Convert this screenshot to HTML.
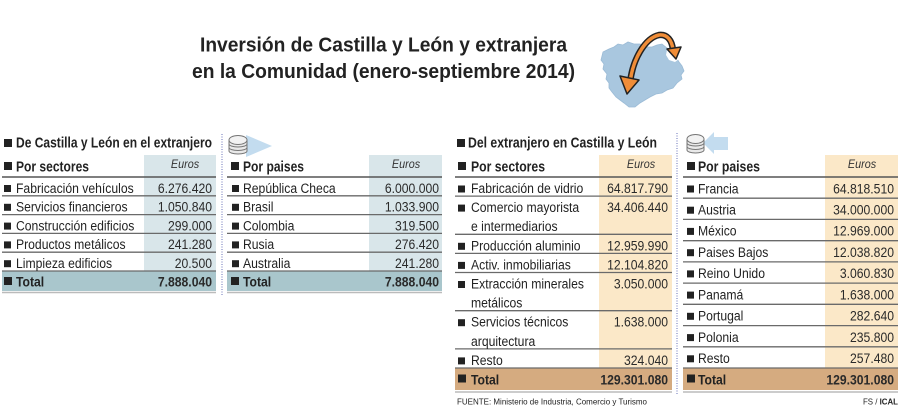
<!DOCTYPE html>
<html>
<head>
<meta charset="utf-8">
<style>
html,body{margin:0;padding:0;background:#fff;}
svg{display:block;}
text{font-family:"Liberation Sans",Arial,sans-serif;fill:#222;}
.l{font-size:14px;}
.n{font-size:14px;text-anchor:end;fill:#2a2a2a;}
.b{font-weight:bold;}
.e{font-size:12px;font-style:italic;text-anchor:middle;fill:#333;}
</style>
</head>
<body>
<svg width="900" height="410" viewBox="0 0 900 410" xmlns="http://www.w3.org/2000/svg">
<rect width="900" height="410" fill="#fff"/>

<!-- Title -->
<text x="200" y="51.5" font-size="20" font-weight="bold" textLength="367" lengthAdjust="spacingAndGlyphs" fill="#1e1e1e">Inversión de Castilla y León y extranjera</text>
<text x="192" y="78" font-size="20" font-weight="bold" textLength="383" lengthAdjust="spacingAndGlyphs" fill="#1e1e1e">en la Comunidad (enero-septiembre 2014)</text>

<!-- Map -->
<path d="M603,52 L609,49 L614,47 L618,44 L623,45 L628,42 L634,44 L640,44 L646,47 L652,47 L657,45 L662,44 L667,48 L672,51 L676,57 L679,62 L682,66 L684,71 L681,75 L682,79 L677,83 L673,88 L667,90 L662,93 L656,94 L650,97 L645,100 L640,103 L635,107 L629,107 L624,103 L620,100 L616,97 L612,92 L609,88 L609,83 L606,79 L607,74 L603,69 L604,64 L601,60 Z" fill="#a9c7df" stroke="#9bbbd6" stroke-width="0.8"/>
<path d="M667,50 L673,49 L678,53 L679,59 L675,62 L669,60 L666,55 Z" fill="#fff"/>
<!-- arrow -->
<path d="M630,84 C632,60 645,38 659,35 C667,34 672,40 673,50" fill="none" stroke="#222" stroke-width="6.5" stroke-linecap="round"/>
<path d="M630,84 C632,60 645,38 659,35 C667,34 672,40 673,50" fill="none" stroke="#f08d38" stroke-width="3.5" stroke-linecap="round"/>
<polygon points="620,76 639,80 627,94" fill="#f08d38" stroke="#222" stroke-width="1.5" stroke-linejoin="round"/>
<polygon points="667,49 681,47 676,59" fill="#f08d38" stroke="#222" stroke-width="1.5" stroke-linejoin="round"/>

<!-- ===== LEFT SECTION ===== -->
<rect x="4" y="139" width="8" height="8" fill="#222"/>
<text x="16" y="147.5" font-size="15" font-weight="bold" textLength="196" lengthAdjust="spacingAndGlyphs">De Castilla y León en el extranjero</text>

<!-- dotted vertical -->
<line x1="222" y1="134" x2="222" y2="295" stroke="#8088c4" stroke-width="1.2" stroke-dasharray="1,1.5"/>

<!-- coin icon left -->
<polygon points="246,135 272,146 246,157" fill="#c3dcef"/>
<g stroke="#777" stroke-width="1" fill="#e9e9e9">
<path d="M229,140 L229,151 A9,3 0 0 0 247,151 L247,140 Z"/>
<ellipse cx="238" cy="140" rx="9" ry="4.5" fill="#f2f2f2"/>
<path d="M229,144 A9,3 0 0 0 247,144 M229,147.5 A9,3 0 0 0 247,147.5" fill="none"/>
</g>

<!-- Table 1: sectores -->
<rect x="144" y="155" width="72" height="116" fill="#d9e6ea"/>
<rect x="2" y="271" width="214" height="20" fill="#a9c6cc"/>
<g stroke="#555" stroke-width="1.6"><line x1="2" y1="177" x2="216" y2="177"/></g>
<g stroke="#6a6a6a" stroke-width="1.3">
<line x1="2" y1="195.8" x2="216" y2="195.8"/>
<line x1="2" y1="214.6" x2="216" y2="214.6"/>
<line x1="2" y1="233.4" x2="216" y2="233.4"/>
<line x1="2" y1="252.2" x2="216" y2="252.2"/>
<line x1="2" y1="271" x2="216" y2="271"/>
</g>
<line x1="2" y1="292.5" x2="216" y2="292.5" stroke="#bbb" stroke-width="1.5"/>
<rect x="4" y="162" width="8" height="8" fill="#222"/>
<text x="16" y="171.5" font-size="15" font-weight="bold" textLength="73" lengthAdjust="spacingAndGlyphs">Por sectores</text>
<text class="e" x="185" y="168" transform="translate(185,0) scale(.9,1) translate(-185,0)">Euros</text>
<g fill="#222">
<rect x="4" y="185" width="7" height="7"/><rect x="4" y="203.8" width="7" height="7"/><rect x="4" y="222.6" width="7" height="7"/><rect x="4" y="241.4" width="7" height="7"/><rect x="4" y="260.2" width="7" height="7"/><rect x="4" y="277" width="8" height="8"/>
</g>
<text class="l" transform="matrix(.87 0 0 1 16 192.8)">Fabricación vehículos</text>
<text class="l" transform="matrix(.87 0 0 1 16 211.6)">Servicios financieros</text>
<text class="l" transform="matrix(.87 0 0 1 16 230.4)">Construcción edificios</text>
<text class="l" transform="matrix(.87 0 0 1 16 249.2)">Productos metálicos</text>
<text class="l" transform="matrix(.87 0 0 1 16 268)">Limpieza edificios</text>
<text class="l b" transform="matrix(.87 0 0 1 16 286.5)" font-size="15">Total</text>
<text class="n" transform="matrix(.87 0 0 1 212 192.8)">6.276.420</text>
<text class="n" transform="matrix(.87 0 0 1 212 211.6)">1.050.840</text>
<text class="n" transform="matrix(.87 0 0 1 212 230.4)">299.000</text>
<text class="n" transform="matrix(.87 0 0 1 212 249.2)">241.280</text>
<text class="n" transform="matrix(.87 0 0 1 212 268)">20.500</text>
<text class="n b" transform="matrix(.87 0 0 1 212 286.5)">7.888.040</text>

<!-- Table 2: paises (left) -->
<rect x="369" y="155" width="73" height="116" fill="#d9e6ea"/>
<rect x="227" y="271" width="215" height="20" fill="#a9c6cc"/>
<line x1="227" y1="177" x2="442" y2="177" stroke="#555" stroke-width="1.6"/>
<g stroke="#6a6a6a" stroke-width="1.3">
<line x1="227" y1="195.8" x2="442" y2="195.8"/>
<line x1="227" y1="214.6" x2="442" y2="214.6"/>
<line x1="227" y1="233.4" x2="442" y2="233.4"/>
<line x1="227" y1="252.2" x2="442" y2="252.2"/>
<line x1="227" y1="271" x2="442" y2="271"/>
</g>
<line x1="227" y1="292.5" x2="442" y2="292.5" stroke="#bbb" stroke-width="1.5"/>
<rect x="231" y="162" width="8" height="8" fill="#222"/>
<text x="243" y="171.5" font-size="15" font-weight="bold" textLength="61" lengthAdjust="spacingAndGlyphs">Por paises</text>
<text class="e" x="406" y="168" transform="translate(406,0) scale(.9,1) translate(-406,0)">Euros</text>
<g fill="#222">
<rect x="232" y="185" width="7" height="7"/><rect x="232" y="203.8" width="7" height="7"/><rect x="232" y="222.6" width="7" height="7"/><rect x="232" y="241.4" width="7" height="7"/><rect x="232" y="260.2" width="7" height="7"/><rect x="231" y="277" width="8" height="8"/>
</g>
<text class="l" transform="matrix(.87 0 0 1 243 192.8)">República Checa</text>
<text class="l" transform="matrix(.87 0 0 1 243 211.6)">Brasil</text>
<text class="l" transform="matrix(.87 0 0 1 243 230.4)">Colombia</text>
<text class="l" transform="matrix(.87 0 0 1 243 249.2)">Rusia</text>
<text class="l" transform="matrix(.87 0 0 1 243 268)">Australia</text>
<text class="l b" transform="matrix(.87 0 0 1 243 286.5)" font-size="15">Total</text>
<text class="n" transform="matrix(.87 0 0 1 439 192.8)">6.000.000</text>
<text class="n" transform="matrix(.87 0 0 1 439 211.6)">1.033.900</text>
<text class="n" transform="matrix(.87 0 0 1 439 230.4)">319.500</text>
<text class="n" transform="matrix(.87 0 0 1 439 249.2)">276.420</text>
<text class="n" transform="matrix(.87 0 0 1 439 268)">241.280</text>
<text class="n b" transform="matrix(.87 0 0 1 439 286.5)">7.888.040</text>

<!-- ===== RIGHT SECTION ===== -->
<rect x="457" y="139" width="8" height="8" fill="#222"/>
<text x="468" y="147.5" font-size="15" font-weight="bold" textLength="189" lengthAdjust="spacingAndGlyphs">Del extranjero en Castilla y León</text>

<line x1="677" y1="133" x2="677" y2="394" stroke="#8088c4" stroke-width="1.2" stroke-dasharray="1,1.5"/>

<!-- coin icon right -->
<polygon points="703,143 714,132 714,137 728,137 728,150 714,150 714,154" fill="#c3dcef"/>
<g stroke="#777" stroke-width="1" fill="#e9e9e9">
<path d="M687,139 L687,150 A8.5,3 0 0 0 704,150 L704,139 Z"/>
<ellipse cx="695.5" cy="139" rx="8.5" ry="4.5" fill="#f2f2f2"/>
<path d="M687,143 A8.5,3 0 0 0 704,143 M687,146.5 A8.5,3 0 0 0 704,146.5" fill="none"/>
</g>

<!-- Table 3: sectores (right) -->
<rect x="599" y="155" width="73" height="213" fill="#fbe8c8"/>
<rect x="455" y="368" width="217" height="22" fill="#d5ab80"/>
<line x1="455" y1="177" x2="672" y2="177" stroke="#555" stroke-width="1.6"/>
<g stroke="#6a6a6a" stroke-width="1.3">
<line x1="455" y1="196.1" x2="672" y2="196.1"/>
<line x1="455" y1="234.3" x2="672" y2="234.3"/>
<line x1="455" y1="253.4" x2="672" y2="253.4"/>
<line x1="455" y1="272.5" x2="672" y2="272.5"/>
<line x1="455" y1="310.7" x2="672" y2="310.7"/>
<line x1="455" y1="348.9" x2="672" y2="348.9"/>
<line x1="455" y1="368" x2="672" y2="368"/>
</g>
<line x1="455" y1="392" x2="672" y2="392" stroke="#bbb" stroke-width="1.5"/>
<rect x="458" y="162" width="8" height="8" fill="#222"/>
<text x="471" y="171.5" font-size="15" font-weight="bold" textLength="74" lengthAdjust="spacingAndGlyphs">Por sectores</text>
<text class="e" x="641" y="168" transform="translate(641,0) scale(.9,1) translate(-641,0)">Euros</text>
<g fill="#222">
<rect x="458" y="185.5" width="7" height="7"/><rect x="458" y="204.6" width="7" height="7"/><rect x="458" y="242.8" width="7" height="7"/><rect x="458" y="261.9" width="7" height="7"/><rect x="458" y="281" width="7" height="7"/><rect x="458" y="319.2" width="7" height="7"/><rect x="458" y="357.4" width="7" height="7"/><rect x="458" y="374.5" width="8" height="8"/>
</g>
<text class="l" transform="matrix(.87 0 0 1 471 193)">Fabricación de vidrio</text>
<text class="l" transform="matrix(.87 0 0 1 471 212.1)">Comercio mayorista</text>
<text class="l" transform="matrix(.87 0 0 1 471 231.2)">e intermediarios</text>
<text class="l" transform="matrix(.87 0 0 1 471 250.3)">Producción aluminio</text>
<text class="l" transform="matrix(.87 0 0 1 471 269.4)">Activ. inmobiliarias</text>
<text class="l" transform="matrix(.87 0 0 1 471 288.5)">Extracción minerales</text>
<text class="l" transform="matrix(.87 0 0 1 471 307.6)">metálicos</text>
<text class="l" transform="matrix(.87 0 0 1 471 326.7)">Servicios técnicos</text>
<text class="l" transform="matrix(.87 0 0 1 471 345.8)">arquitectura</text>
<text class="l" transform="matrix(.87 0 0 1 471 364.9)">Resto</text>
<text class="l b" transform="matrix(.87 0 0 1 471 384.5)" font-size="15">Total</text>
<text class="n" transform="matrix(.87 0 0 1 668 193)">64.817.790</text>
<text class="n" transform="matrix(.87 0 0 1 668 212.1)">34.406.440</text>
<text class="n" transform="matrix(.87 0 0 1 668 250.3)">12.959.990</text>
<text class="n" transform="matrix(.87 0 0 1 668 269.4)">12.104.820</text>
<text class="n" transform="matrix(.87 0 0 1 668 288.5)">3.050.000</text>
<text class="n" transform="matrix(.87 0 0 1 668 326.7)">1.638.000</text>
<text class="n" transform="matrix(.87 0 0 1 668 364.9)">324.040</text>
<text class="n b" transform="matrix(.87 0 0 1 668 384.5)">129.301.080</text>

<!-- Table 4: paises (right) -->
<rect x="825" y="155" width="73" height="213" fill="#fbe8c8"/>
<rect x="683" y="368" width="215" height="22" fill="#d5ab80"/>
<line x1="683" y1="177" x2="898" y2="177" stroke="#555" stroke-width="1.6"/>
<g stroke="#6a6a6a" stroke-width="1.3">
<line x1="683" y1="198.2" x2="898" y2="198.2"/>
<line x1="683" y1="219.4" x2="898" y2="219.4"/>
<line x1="683" y1="240.7" x2="898" y2="240.7"/>
<line x1="683" y1="261.9" x2="898" y2="261.9"/>
<line x1="683" y1="283.1" x2="898" y2="283.1"/>
<line x1="683" y1="304.3" x2="898" y2="304.3"/>
<line x1="683" y1="325.6" x2="898" y2="325.6"/>
<line x1="683" y1="346.8" x2="898" y2="346.8"/>
<line x1="683" y1="368" x2="898" y2="368"/>
</g>
<line x1="683" y1="392" x2="898" y2="392" stroke="#bbb" stroke-width="1.5"/>
<rect x="687" y="162" width="8" height="8" fill="#222"/>
<text x="698" y="171.5" font-size="15" font-weight="bold" textLength="62" lengthAdjust="spacingAndGlyphs">Por paises</text>
<text class="e" x="862" y="168" transform="translate(862,0) scale(.9,1) translate(-862,0)">Euros</text>
<g fill="#222">
<rect x="687" y="185.5" width="7" height="7"/><rect x="687" y="206.7" width="7" height="7"/><rect x="687" y="227.9" width="7" height="7"/><rect x="687" y="249.2" width="7" height="7"/><rect x="687" y="270.4" width="7" height="7"/><rect x="687" y="291.6" width="7" height="7"/><rect x="687" y="312.8" width="7" height="7"/><rect x="687" y="334.1" width="7" height="7"/><rect x="687" y="355.3" width="7" height="7"/><rect x="687" y="374.5" width="8" height="8"/>
</g>
<text class="l" transform="matrix(.87 0 0 1 698 193.3)">Francia</text>
<text class="l" transform="matrix(.87 0 0 1 698 214.5)">Austria</text>
<text class="l" transform="matrix(.87 0 0 1 698 235.7)">México</text>
<text class="l" transform="matrix(.87 0 0 1 698 257)">Paises Bajos</text>
<text class="l" transform="matrix(.87 0 0 1 698 278.2)">Reino Unido</text>
<text class="l" transform="matrix(.87 0 0 1 698 299.4)">Panamá</text>
<text class="l" transform="matrix(.87 0 0 1 698 320.6)">Portugal</text>
<text class="l" transform="matrix(.87 0 0 1 698 341.9)">Polonia</text>
<text class="l" transform="matrix(.87 0 0 1 698 363.1)">Resto</text>
<text class="l b" transform="matrix(.87 0 0 1 698 384.5)" font-size="15">Total</text>
<text class="n" transform="matrix(.87 0 0 1 894 193.3)">64.818.510</text>
<text class="n" transform="matrix(.87 0 0 1 894 214.5)">34.000.000</text>
<text class="n" transform="matrix(.87 0 0 1 894 235.7)">12.969.000</text>
<text class="n" transform="matrix(.87 0 0 1 894 257)">12.038.820</text>
<text class="n" transform="matrix(.87 0 0 1 894 278.2)">3.060.830</text>
<text class="n" transform="matrix(.87 0 0 1 894 299.4)">1.638.000</text>
<text class="n" transform="matrix(.87 0 0 1 894 320.6)">282.640</text>
<text class="n" transform="matrix(.87 0 0 1 894 341.9)">235.800</text>
<text class="n" transform="matrix(.87 0 0 1 894 363.1)">257.480</text>
<text class="n b" transform="matrix(.87 0 0 1 894 384.5)">129.301.080</text>

<!-- footer -->
<text x="457" y="404.5" font-size="8.5" textLength="190" lengthAdjust="spacingAndGlyphs" fill="#333">FUENTE: Ministerio de Industria, Comercio y Turismo</text>
<text x="863" y="404.5" font-size="8.5" fill="#333" textLength="35" lengthAdjust="spacingAndGlyphs">FS / <tspan font-weight="bold">ICAL</tspan></text>
</svg>
</body>
</html>
